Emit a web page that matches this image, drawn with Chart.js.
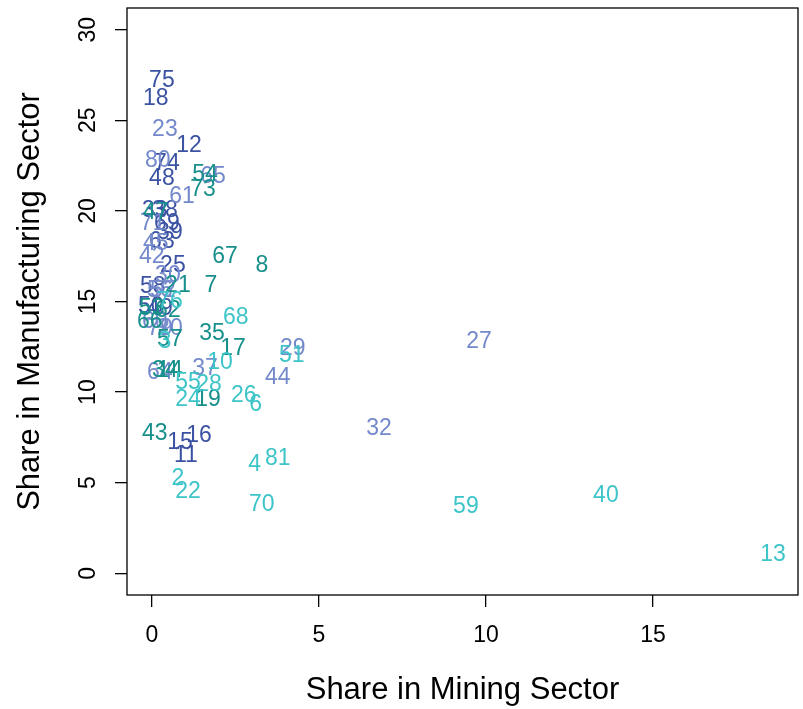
<!DOCTYPE html>
<html>
<head>
<meta charset="utf-8">
<script src="https://cdn.jsdelivr.net/npm/chart.js@4/dist/chart.umd.min.js"></script>
<style>
  html, body { margin: 0; padding: 0; background: #ffffff; }
  canvas { display: block; }
</style>
</head>
<body>
<canvas id="chart" width="803" height="709"></canvas>
<script>
// Country index labels, grouped into four colour classes.
const groupDarkLabels  = ["75","18","12","74","48","33","38","69","39","63","25","58","50","49","15","16","11"];
const groupDarkMining  = [0.30, 0.12, 1.11, 0.45, 0.30, 0.09, 0.39, 0.45, 0.54, 0.30, 0.63, 0.03, -0.03, 0.24, 0.84, 1.41, 1.02];
const groupDarkManuf   = [27.2, 26.2, 23.6, 22.6, 21.8, 20.0, 20.0, 19.3, 18.8, 18.3, 17.0, 15.8, 14.7, 14.6, 7.2, 7.6, 6.5];

const groupLightLabels = ["23","80","65","61","71","45","42","30","56","52","60","79","20","29","27","37","44","64","32"];
const groupLightMining = [0.39, 0.18, 1.83, 0.90, 0.03, 0.12, 0.00, 0.48, 0.24, 0.33, 0.09, 0.24, 0.54, 4.22, 9.79, 1.59, 3.77, 0.24, 6.80];
const groupLightManuf  = [24.5, 22.8, 21.9, 20.8, 19.3, 18.2, 17.5, 16.4, 15.6, 15.6, 13.9, 13.5, 13.5, 12.4, 12.8, 11.3, 10.8, 11.1, 8.0];

const groupTealLabels  = ["54","73","47","67","8","21","7","53","62","66","57","35","17","34","14","19","43"];
const groupTealMining  = [1.59, 1.53, 0.12, 2.19, 3.29, 0.78, 1.77, 0.00, 0.48, -0.06, 0.54, 1.80, 2.43, 0.39, 0.54, 1.68, 0.09];
const groupTealManuf   = [22.0, 21.2, 19.9, 17.5, 17.0, 15.9, 15.9, 14.6, 14.5, 13.9, 12.9, 13.2, 12.4, 11.2, 11.2, 9.6, 7.7];

const groupCyanLabels  = ["76","3","68","51","10","55","28","24","26","6","4","81","2","22","70","59","40","13"];
const groupCyanMining  = [0.54, 0.39, 2.51, 4.19, 2.04, 1.08, 1.71, 1.08, 2.75, 3.11, 3.08, 3.77, 0.78, 1.08, 3.29, 9.40, 13.59, 18.59];
const groupCyanManuf   = [15.0, 12.8, 14.1, 12.0, 11.6, 10.5, 10.4, 9.6, 9.8, 9.3, 6.0, 6.3, 5.2, 4.5, 3.8, 3.7, 4.3, 1.0];

const xTickValues = [0, 5, 10, 15];
const yTickValues = [0, 5, 10, 15, 20, 25, 30];

const FONT = "'Liberation Sans', Arial, Helvetica, sans-serif";

function toPoints(xs, ys, labels) {
  return xs.map((x, i) => ({ x: x, y: ys[i], label: labels[i] }));
}

function makeDataset(name, xs, ys, labels, colour) {
  return {
    label: name,
    data: toPoints(xs, ys, labels),
    pointRadius: 0,
    pointHoverRadius: 0,
    showLine: false,
    textColour: colour
  };
}

// Writes each observation's index label at its plotted position.
const textMarks = {
  id: 'textMarks',
  afterDatasetsDraw(chart) {
    const ctx = chart.ctx;
    ctx.save();
    ctx.font = "23px " + FONT;
    ctx.textAlign = 'center';
    ctx.textBaseline = 'middle';
    chart.data.datasets.forEach((ds, di) => {
      const meta = chart.getDatasetMeta(di);
      ctx.fillStyle = ds.textColour;
      meta.data.forEach((el, j) => {
        ctx.fillText(ds.data[j].label, el.x, el.y);
      });
    });
    ctx.restore();
  }
};

// Frame around the plotting region.
const frameBox = {
  id: 'frameBox',
  afterDraw(chart) {
    const a = chart.chartArea;
    const ctx = chart.ctx;
    ctx.save();
    ctx.strokeStyle = '#000';
    ctx.lineWidth = 1.3;
    ctx.strokeRect(a.left, a.top, a.right - a.left, a.bottom - a.top);
    ctx.restore();
  }
};

new Chart(document.getElementById('chart'), {
  type: 'scatter',
  data: {
    datasets: [
      makeDataset('dark',  groupDarkMining,  groupDarkManuf,  groupDarkLabels,  '#3b52a3'),
      makeDataset('light', groupLightMining, groupLightManuf, groupLightLabels, '#7489cb'),
      makeDataset('teal',  groupTealMining,  groupTealManuf,  groupTealLabels,  '#178f8b'),
      makeDataset('cyan',  groupCyanMining,  groupCyanManuf,  groupCyanLabels,  '#3cc4c8')
    ]
  },
  options: {
    responsive: false,
    animation: false,
    layout: { padding: { top: 8, right: 5, left: 0, bottom: 0 } },
    plugins: {
      legend: { display: false },
      tooltip: { enabled: false }
    },
    scales: {
      x: {
        type: 'linear',
        min: -0.744,
        max: 19.34,
        afterBuildTicks(scale) { scale.ticks = xTickValues.map(v => ({ value: v })); },
        afterFit(scale) { scale.height = 114; scale.paddingLeft = 0; scale.paddingRight = 0; },
        border: { display: false },
        grid: { drawOnChartArea: false, drawTicks: true, tickLength: 12, color: '#000', lineWidth: 1.3 },
        ticks: { color: '#000', font: { family: FONT, size: 23 }, padding: 15, maxRotation: 0 },
        title: { display: true, text: 'Share in Mining Sector', color: '#000',
                 font: { family: FONT, size: 31 }, padding: { top: 0, bottom: 0 } }
      },
      y: {
        type: 'linear',
        min: -1.2,
        max: 31.2,
        afterBuildTicks(scale) { scale.ticks = yTickValues.map(v => ({ value: v })); },
        afterFit(scale) { scale.width = 127; scale.paddingTop = 0; scale.paddingBottom = 0; },
        border: { display: false },
        grid: { drawOnChartArea: false, drawTicks: true, tickLength: 12, color: '#000', lineWidth: 1.3 },
        ticks: { color: '#000', font: { family: FONT, size: 23 }, padding: 14,
                 minRotation: 90, maxRotation: 90, crossAlign: 'center' },
        title: { display: true, text: 'Share in Manufacturing Sector', color: '#000',
                 font: { family: FONT, size: 31 }, padding: { top: 12, bottom: 0 } }
      }
    }
  },
  plugins: [textMarks, frameBox]
});
</script>
</body>
</html>
